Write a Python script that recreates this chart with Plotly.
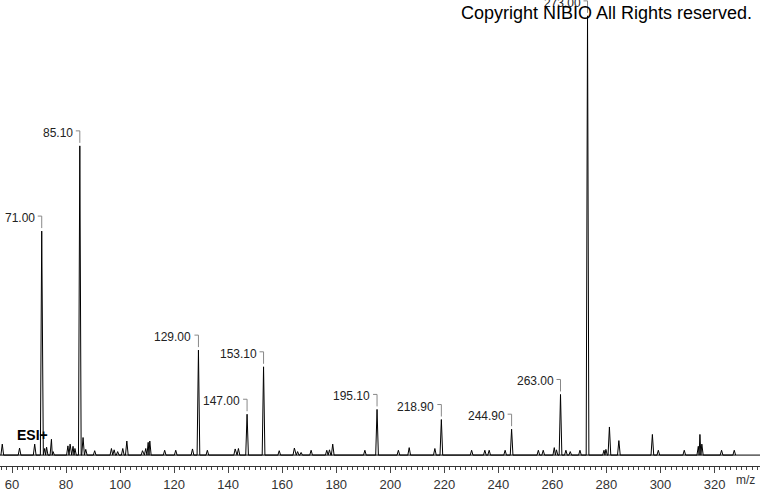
import plotly.graph_objects as go

# ---- data ----
peak_mz = [56.4, 62.8, 68.4, 71.0, 72.1, 72.8, 74.6, 75.2, 80.7, 81.5, 82.6, 83.3,
           85.1, 86.3, 87.3, 90.6, 96.8, 97.8, 99.1, 101.0, 102.5, 108.3, 109.5,
           110.4, 111.0, 116.5, 120.6, 126.8, 129.0, 132.3, 142.6, 143.8, 147.0,
           153.1, 158.9, 164.5, 165.7, 167.0, 170.7, 176.5, 177.5, 178.7, 190.6,
           195.1, 203.0, 207.0, 216.5, 218.9, 230.1, 235.0, 236.6, 242.5, 244.9,
           254.8, 256.6, 260.7, 261.5, 263.0, 265.0, 266.6, 270.2, 273.0, 279.1,
           279.8, 281.1, 284.6, 297.0, 299.2, 308.8, 314.0, 314.6, 315.3, 322.6,
           327.3]
peak_int = [2.5, 1.6, 2.5, 51.0, 1.5, 1.8, 3.6, 0.8, 2.1, 2.5, 2.0, 1.5,
            70.4, 4.0, 1.3, 1.0, 1.5, 1.2, 0.8, 1.5, 3.2, 1.0, 1.5,
            2.9, 3.2, 1.1, 1.1, 1.4, 23.9, 1.1, 1.4, 1.5, 9.3,
            20.1, 1.0, 1.6, 0.8, 0.6, 1.1, 1.1, 1.2, 2.5, 1.1,
            10.4, 1.1, 1.7, 1.5, 8.1, 1.1, 1.1, 1.1, 1.1, 5.9,
            1.1, 1.1, 1.7, 1.2, 13.8, 1.1, 0.8, 1.1, 100.0, 1.1,
            1.3, 6.4, 3.3, 4.7, 1.1, 1.1, 2.0, 4.7, 2.5, 1.1,
            1.1]
label_mz = [71.00, 85.10, 129.00, 147.00, 153.10, 195.10, 218.90, 244.90, 263.00, 273.00]
tick_vals = [60, 80, 100, 120, 140, 160, 180, 200, 220, 240, 260, 280, 300, 320]

# ---- build profile-like line from peak list ----
W = 0.5
xs, ys = [], []
n = len(peak_mz)
for i, (m, h) in enumerate(zip(peak_mz, peak_int)):
    left = m - W
    right = m + W
    if i > 0 and peak_mz[i - 1] + W > left:
        left = (peak_mz[i - 1] + m) / 2
    if i < n - 1 and peak_mz[i + 1] - W < right:
        right = (peak_mz[i + 1] + m) / 2
    xs += [left, m, right]
    ys += [0, h, 0]

FONT = "Liberation Sans, Arial"

fig = go.Figure()
fig.add_trace(go.Scatter(x=xs, y=ys, mode="lines",
                         line=dict(color="black", width=1), hoverinfo="skip"))

annotations = []
shapes = [dict(type="line", xref="paper", x0=0, x1=1, yref="y", y0=0, y1=0,
               line=dict(color="black", width=1))]
for lm in label_mz:
    idx = min(range(n), key=lambda k: abs(peak_mz[k] - lm))
    h = peak_int[idx]
    annotations.append(dict(x=lm, y=h, xref="x", yref="y", text=f"{lm:.2f}",
                            showarrow=False, xanchor="right", yanchor="middle",
                            xshift=-5, yshift=13,
                            font=dict(family=FONT, size=12, color="#222")))
    shapes.append(dict(type="path", xref="x", yref="y", xsizemode="pixel", ysizemode="pixel",
                       xanchor=lm, yanchor=h, path="M -4,15 L 0,15 L 0,3",
                       line=dict(color="#888", width=1)))

annotations.append(dict(x=1, y=1, xref="paper", yref="paper", xanchor="right", yanchor="middle",
                        xshift=-6, yshift=-13, showarrow=False,
                        text="Copyright NIBIO All Rights reserved.",
                        font=dict(family=FONT, size=18, color="black")))
annotations.append(dict(x=0, y=0, xref="paper", yref="paper", xanchor="left", yanchor="middle",
                        xshift=15, yshift=31, showarrow=False, text="<b>ESI+</b>",
                        font=dict(family=FONT, size=14, color="black")))
annotations.append(dict(x=1, y=0, xref="paper", yref="paper", xanchor="right", yanchor="middle",
                        xshift=-3, yshift=-14, showarrow=False, text="m/z",
                        font=dict(family=FONT, size=12, color="#333")))

fig.update_layout(
    width=760, height=492,
    margin=dict(l=0, r=0, t=0, b=22),
    paper_bgcolor="white", plot_bgcolor="white",
    showlegend=False,
    annotations=annotations, shapes=shapes,
    xaxis=dict(range=[55.56, 336.83], tickvals=tick_vals, ticks="outside", ticklen=6,
               tickcolor="#444", showline=True, linecolor="#333", linewidth=1,
               showgrid=False, zeroline=False,
               tickfont=dict(family=FONT, size=13, color="#333"),
               minor=dict(dtick=2, tick0=0, ticks="outside", ticklen=3, tickcolor="#444", showgrid=False)),
    yaxis=dict(range=[-2.483, 103.61], visible=False, showgrid=False, zeroline=False),
)

fig.write_html("out.html", config={"displayModeBar": False},
               post_script="document.body.style.margin='0';document.body.style.overflow='hidden';")
